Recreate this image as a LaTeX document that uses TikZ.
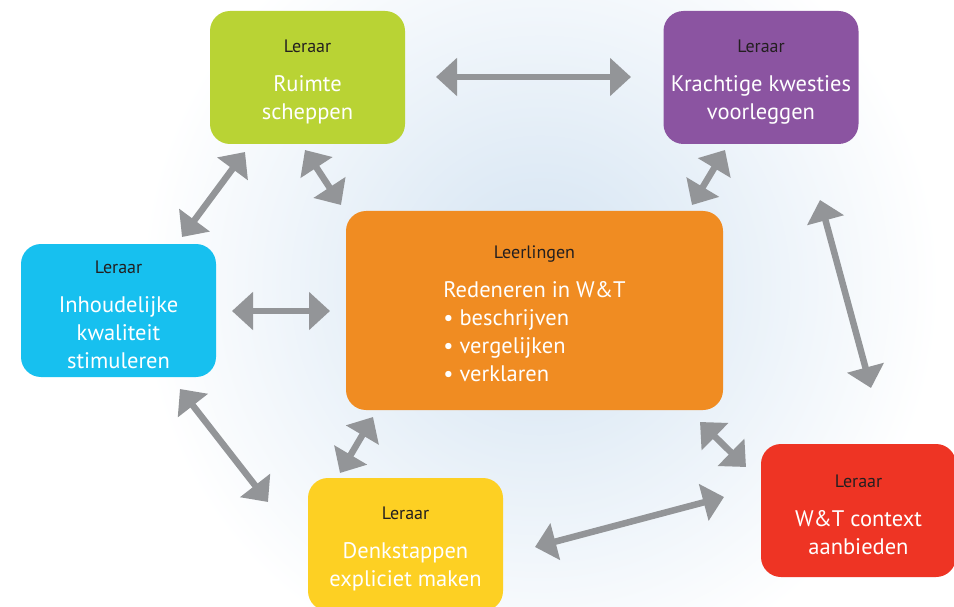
\documentclass[tikz,border=0pt]{standalone}
\usepackage{fontspec}
\setmainfont{PT Sans}
\usepackage{tikz}
\usetikzlibrary{arrows.meta}
\definecolor{groen}{HTML}{B9D334}
\definecolor{paars}{HTML}{8B54A1}
\definecolor{cyaan}{HTML}{17C0EF}
\definecolor{oranje}{HTML}{F08C22}
\definecolor{geel}{HTML}{FDD023}
\definecolor{rood}{HTML}{EE3424}
\definecolor{pijlgrijs}{HTML}{939598}
\definecolor{donker}{HTML}{231F20}
\definecolor{bgblauw}{HTML}{D3E3F2}
\newcommand{\hoofd}{\fontsize{22.5}{28}\selectfont}
\newcommand{\kop}[1]{{\fontsize{18}{20}\selectfont\color{donker}\rule{0pt}{21pt}#1}}
\tikzstyle{taak}=[rectangle,rounded corners=20pt,minimum width=195pt,minimum height=133pt,inner sep=0pt,align=center,text=white,font=\hoofd]
\tikzstyle{pijl}=[{Triangle[length=21pt,width=37pt]}-{Triangle[length=21pt,width=37pt]},line width=6.5pt,draw=pijlgrijs]
\newcommand{\leraarnode}{\node[taak]}

\begin{document}
\begin{tikzpicture}[x=1pt,y=-1pt]
          \useasboundingbox (0,0) rectangle (954,607);
          \fill[white] (0,0) rectangle (954,607); % achtergrond
          \shade[inner color=bgblauw,outer color=white] (540,285) circle (400);
          \leraarnode[fill=groen] (ruimte) at (307.5,77.5) {\kop{Leraar}\\[11pt]Ruimte\\scheppen}; %
          \leraarnode[fill=paars] (kwesties) at (761,77.5) {\kop{Leraar}\\[11pt]Krachtige kwesties\\voorleggen}; %
          \leraarnode[fill=cyaan] (inhoud) at (118.5,310.5) {\kop{Leraar}\\[11pt]Inhoudelijke\\kwaliteit\\stimuleren}; %
          \leraarnode[fill=geel] (denk) at (405.5,544.5) {\kop{Leraar}\\[11pt]Denkstappen\\expliciet maken}; %
          \leraarnode[fill=rood] (context) at (858.5,510.5) {\kop{Leraar}\\[11pt]W\&T context\\aanbieden}; %
          \node[taak,fill=oranje,minimum width=377pt,minimum height=199pt] (redeneren) at (534.5,310.5)
            {\kop{\rule{0pt}{27pt}Leerlingen}\\[11pt]\begin{tabular}[t]{@{}l@{}}Redeneren in W\&T\\• beschrijven\\• vergelijken\\• verklaren\end{tabular}};
          % pijlpunten
          \coordinate (rk1) at (436,77);  \coordinate (rk2) at (631,77);
          \coordinate (ri1) at (245,152); \coordinate (ri2) at (182,237);
          \coordinate (rr1) at (305,150); \coordinate (rr2) at (341,205);
          \coordinate (kr1) at (725,150); \coordinate (kr2) at (692,205);
          \coordinate (kc1) at (820,200); \coordinate (kc2) at (871,388);
          \coordinate (ir1) at (232,311); \coordinate (ir2) at (330,311);
          \coordinate (id1) at (180,389); \coordinate (id2) at (268,502);
          \coordinate (rd1) at (373,417); \coordinate (rd2) at (340,473);
          \coordinate (rc1) at (700,422); \coordinate (rc2) at (746,467);
          \coordinate (dc1) at (535,547); \coordinate (dc2) at (724,497);
          \draw[pijl] (rk1) -- (rk2);
          \draw[pijl] (ri1) -- (ri2);
          \draw[pijl] (rr1) -- (rr2);
          \draw[pijl] (kr1) -- (kr2);
          \draw[pijl] (kc1) -- (kc2);
          \draw[pijl] (ir1) -- (ir2);
          \draw[pijl] (id1) -- (id2);
          \draw[pijl] (rd1) -- (rd2);
          \draw[pijl] (rc1) -- (rc2);
          \draw[pijl] (dc1) -- (dc2);
        \end{tikzpicture}
\end{document}
